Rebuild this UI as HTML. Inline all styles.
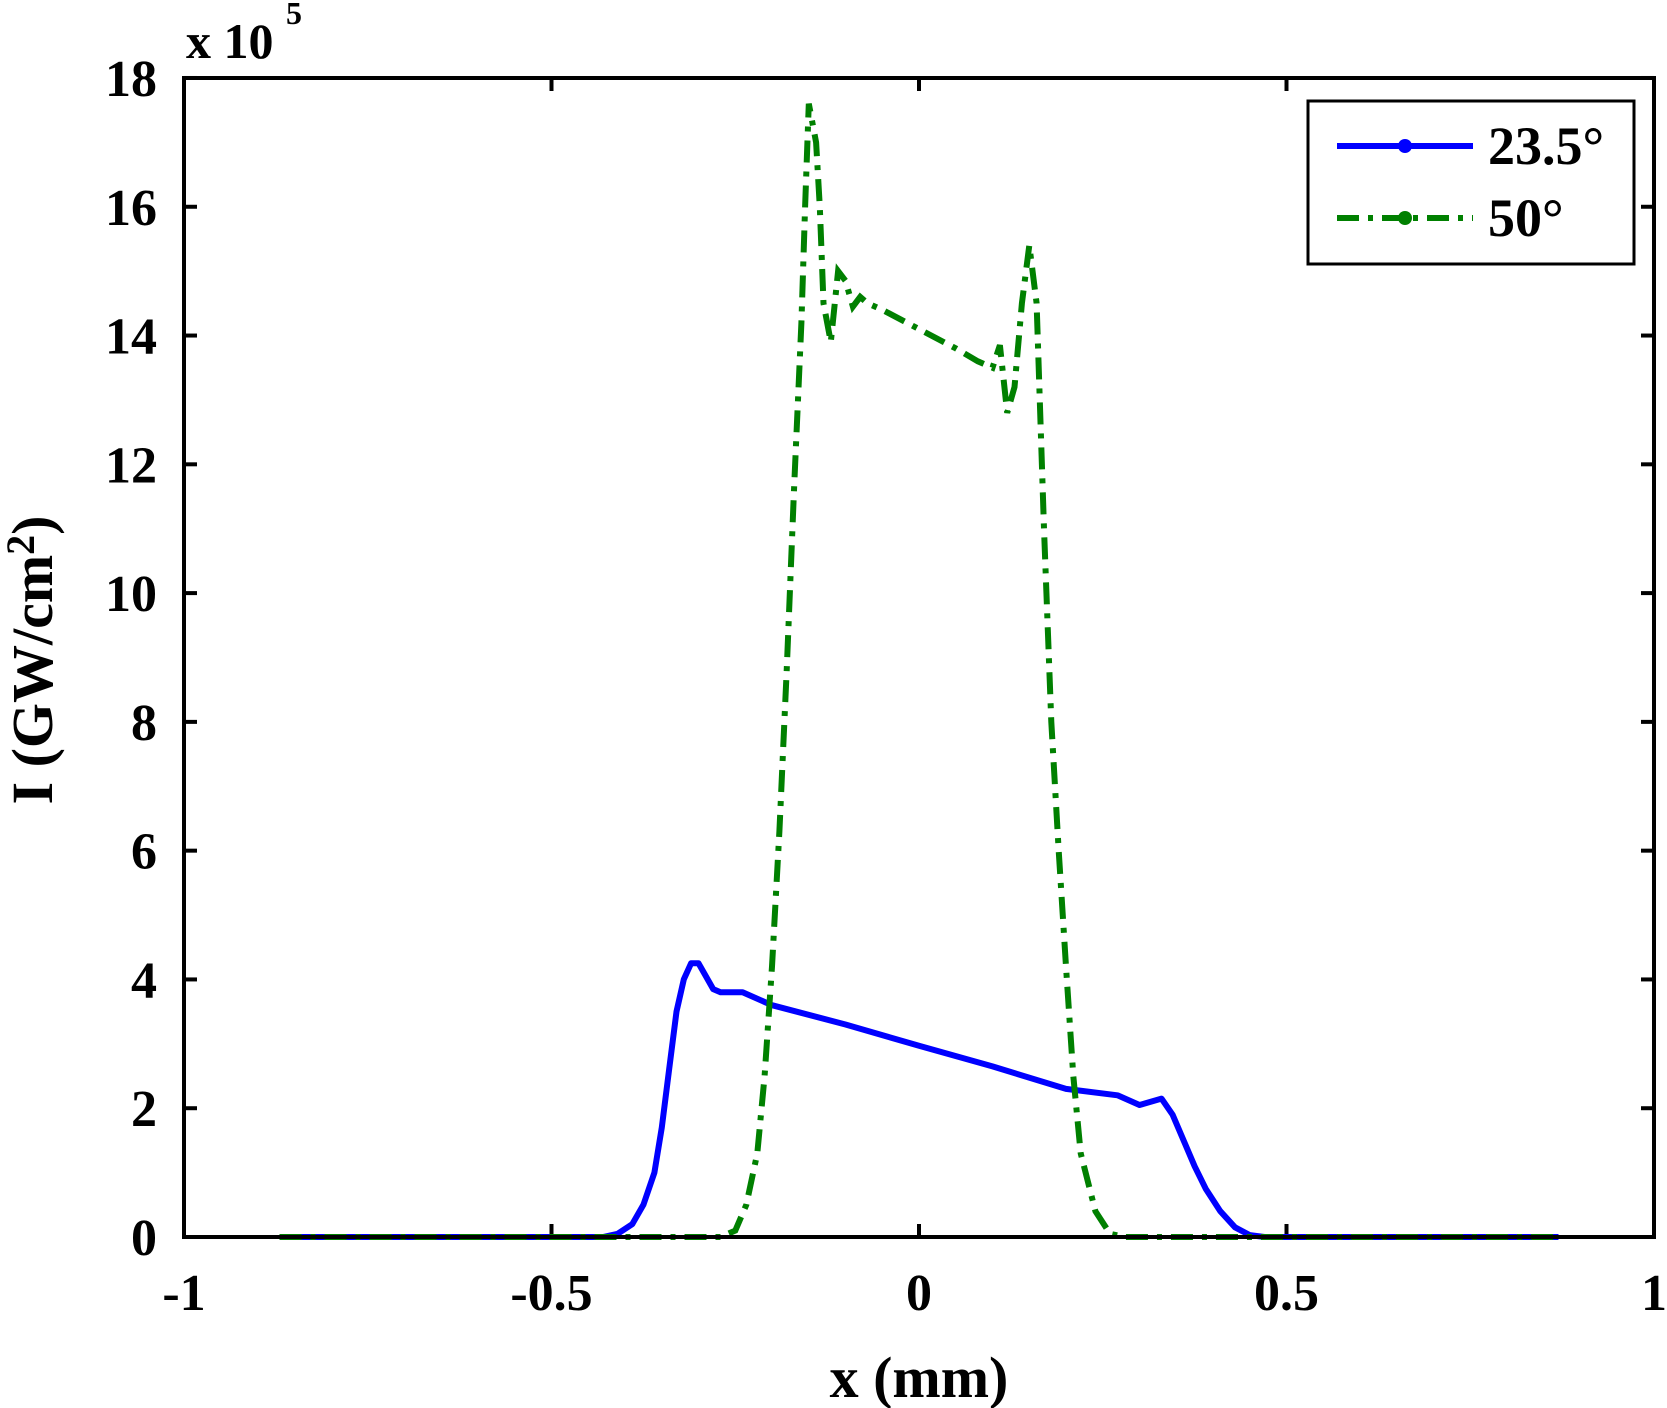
<!DOCTYPE html>
<html><head><style>body{margin:0;background:#fff}svg{display:block}text{font-family:"Liberation Serif","Times New Roman",Times,serif;font-weight:bold;fill:#000}</style></head>
<body>
<svg width="1667" height="1408" xmlns="http://www.w3.org/2000/svg">
<g id="ticks" stroke="#000" stroke-width="4"></g>
<g id="labels" font-size="52"></g>
<path id="blue" fill="none" stroke="#0000ff" stroke-width="6" stroke-linejoin="round"/>
<path id="green" fill="none" stroke="#008000" stroke-width="6" stroke-dasharray="22,9,5,9"/>
<rect x="184" y="78" width="1470" height="1159" fill="none" stroke="#000" stroke-width="4"/>
<text x="186" y="58" font-size="50">x 10</text>
<text x="286" y="24" font-size="32">5</text>
<text x="919" y="1397" font-size="58" text-anchor="middle">x (mm)</text>
<text transform="translate(52,660) rotate(-90)" font-size="58" text-anchor="middle">I (GW/cm<tspan font-size="40" dy="-18">2</tspan><tspan dy="18">)</tspan></text>
<rect x="1308" y="101" width="326" height="163" fill="#fff" stroke="#000" stroke-width="3"/>
<line x1="1337" y1="146" x2="1473" y2="146" stroke="#0000ff" stroke-width="6"/>
<circle cx="1405" cy="146" r="7" fill="#0000ff"/>
<line x1="1337" y1="218" x2="1473" y2="218" stroke="#008000" stroke-width="6" stroke-dasharray="22,9,5,9"/>
<circle cx="1405" cy="218" r="7" fill="#008000"/>
<text x="1488" y="164" font-size="54">23.5°</text>
<text x="1488" y="236" font-size="54">50°</text>
</svg>
<script>
const X=x=>919+735*x, Y=v=>1237-64.39*v;
const ns="http://www.w3.org/2000/svg";
const tg=document.getElementById('ticks'), lg=document.getElementById('labels');
function el(p,t,a,txt){const e=document.createElementNS(ns,t);for(const k in a)e.setAttribute(k,a[k]);if(txt!==undefined)e.textContent=txt;p.appendChild(e);}
for(let v=0;v<=18;v+=2){const y=Y(v);el(tg,'line',{x1:184,y1:y,x2:197,y2:y});el(tg,'line',{x1:1641,y1:y,x2:1654,y2:y});el(lg,'text',{x:157,y:y+18,'text-anchor':'end'},v);}
[-1,-0.5,0,0.5,1].forEach(x=>{const px=X(x);el(tg,'line',{x1:px,y1:1237,x2:px,y2:1224});el(tg,'line',{x1:px,y1:78,x2:px,y2:91});el(lg,'text',{x:px,y:1310,'text-anchor':'middle'},x==-1?'-1':x==-0.5?'-0.5':x);});
const b=[[-0.87,0],[-0.43,0],[-0.41,0.05],[-0.39,0.2],[-0.375,0.5],[-0.36,1],[-0.35,1.7],[-0.34,2.6],[-0.33,3.5],[-0.32,4.0],[-0.31,4.25],[-0.3,4.25],[-0.29,4.05],[-0.28,3.85],[-0.27,3.8],[-0.24,3.8],[-0.2,3.6],[-0.1,3.3],[0,2.97],[0.1,2.65],[0.2,2.3],[0.27,2.2],[0.3,2.05],[0.33,2.15],[0.345,1.9],[0.36,1.5],[0.375,1.1],[0.39,0.75],[0.41,0.4],[0.43,0.15],[0.45,0.03],[0.47,0],[0.87,0]];
const g=[[-0.87,0],[-0.27,0],[-0.25,0.1],[-0.235,0.5],[-0.22,1.3],[-0.21,2.5],[-0.2,4.2],[-0.19,6.3],[-0.18,8.8],[-0.17,11.6],[-0.16,14.2],[-0.155,16],[-0.15,17.6],[-0.14,17],[-0.135,16],[-0.13,14.5],[-0.12,13.9],[-0.11,15],[-0.1,14.85],[-0.09,14.45],[-0.08,14.6],[-0.07,14.5],[-0.05,14.4],[0,14.1],[0.05,13.8],[0.08,13.6],[0.1,13.5],[0.11,13.85],[0.12,12.8],[0.13,13.2],[0.14,14.5],[0.15,15.4],[0.16,14.5],[0.17,11],[0.18,8],[0.19,6],[0.2,4.2],[0.21,2.5],[0.22,1.3],[0.24,0.4],[0.26,0.05],[0.28,0],[0.87,0]];
const P=a=>a.map((p,i)=>(i?'L':'M')+X(p[0]).toFixed(1)+' '+Y(p[1]).toFixed(1)).join(' ');
document.getElementById('blue').setAttribute('d',P(b));
document.getElementById('green').setAttribute('d',P(g));
</script>
</body></html>
